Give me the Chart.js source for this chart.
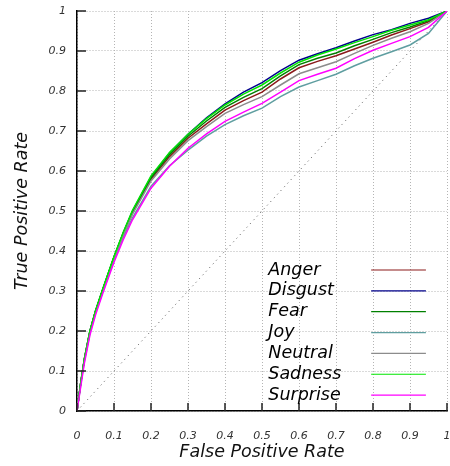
<!DOCTYPE html>
<html>
<head>
<meta charset="utf-8">
<script src="https://cdn.jsdelivr.net/npm/chart.js@4"></script>
<style>
html,body{margin:0;padding:0;background:#fff;}
#wrap{width:450px;height:466px;}
</style>
</head>
<body>
<div id="wrap"><canvas id="c" width="450" height="466"></canvas></div>
<script>
// ---- data ----
const fpr = [0, 0.01, 0.02, 0.035, 0.05, 0.07, 0.1, 0.125, 0.15, 0.2, 0.25, 0.3, 0.35, 0.4, 0.45, 0.5, 0.55, 0.6, 0.65, 0.7, 0.75, 0.8, 0.85, 0.9, 0.95, 1];
const anger    = [0, 0.07, 0.13, 0.199, 0.249, 0.304, 0.383, 0.442, 0.495, 0.579, 0.636, 0.682, 0.718, 0.752, 0.776, 0.797, 0.83, 0.858, 0.874, 0.888, 0.905, 0.922, 0.94, 0.956, 0.973, 1];
const disgust  = [0, 0.07, 0.13, 0.2, 0.25, 0.305, 0.385, 0.445, 0.5, 0.585, 0.645, 0.692, 0.733, 0.768, 0.797, 0.821, 0.851, 0.877, 0.893, 0.908, 0.925, 0.941, 0.953, 0.969, 0.982, 1];
const fear     = [0, 0.07, 0.13, 0.2, 0.25, 0.305, 0.385, 0.445, 0.498, 0.583, 0.641, 0.687, 0.725, 0.759, 0.784, 0.806, 0.838, 0.866, 0.882, 0.895, 0.913, 0.929, 0.946, 0.96, 0.976, 1];
const joy      = [0, 0.065, 0.125, 0.195, 0.245, 0.299, 0.377, 0.434, 0.483, 0.562, 0.613, 0.652, 0.687, 0.716, 0.738, 0.757, 0.786, 0.81, 0.826, 0.842, 0.863, 0.882, 0.898, 0.915, 0.944, 1];
const neutral  = [0, 0.069, 0.129, 0.198, 0.248, 0.302, 0.381, 0.44, 0.492, 0.575, 0.63, 0.676, 0.711, 0.744, 0.766, 0.786, 0.815, 0.843, 0.858, 0.873, 0.894, 0.914, 0.932, 0.948, 0.969, 1];
const sadness  = [0, 0.07, 0.13, 0.2, 0.25, 0.306, 0.386, 0.447, 0.502, 0.588, 0.646, 0.692, 0.731, 0.765, 0.792, 0.815, 0.845, 0.872, 0.89, 0.905, 0.921, 0.936, 0.952, 0.965, 0.978, 1];
const surprise = [0, 0.06, 0.12, 0.19, 0.24, 0.295, 0.372, 0.428, 0.478, 0.557, 0.612, 0.657, 0.693, 0.724, 0.747, 0.769, 0.797, 0.826, 0.842, 0.857, 0.881, 0.902, 0.919, 0.936, 0.959, 1];
const diagX = [0, 1];
const diagY = [0, 1];
const seriesNames = ['Anger', 'Disgust', 'Fear', 'Joy', 'Neutral', 'Sadness', 'Surprise'];
const seriesValues = [anger, disgust, fear, joy, neutral, sadness, surprise];
const seriesColors = ['#8b1a1a', '#00008b', '#008000', '#5f9ea0', '#8c8c8c', '#00e600', '#ff00ff'];
const xTicks = [0, 0.1, 0.2, 0.3, 0.4, 0.5, 0.6, 0.7, 0.8, 0.9, 1];
const xTickLabels = ['0', '0.1', '0.2', '0.3', '0.4', '0.5', '0.6', '0.7', '0.8', '0.9', '1'];
const yTicks = [0, 0.1, 0.2, 0.3, 0.4, 0.5, 0.6, 0.7, 0.8, 0.9, 1];
const yTickLabels = ['0', '0.1', '0.2', '0.3', '0.4', '0.5', '0.6', '0.7', '0.8', '0.9', '1'];

const FONT = '"DejaVu Sans", sans-serif';

const datasets = seriesNames.map((name, i) => ({
  label: name,
  data: fpr.map((x, k) => ({x: x, y: seriesValues[i][k]})),
  borderColor: seriesColors[i],
  borderWidth: 1.5,
  pointRadius: 0,
  tension: 0,
  fill: false,
  order: 20 - i
}));
datasets.push({
  label: '_diag',
  data: diagX.map((x, k) => ({x: x, y: diagY[k]})),
  borderColor: '#555',
  borderWidth: 1,
  borderDash: [1, 4],
  pointRadius: 0,
  fill: false,
  order: 100
});

function nearestLabel(arr, labels, v) {
  for (let i = 0; i < arr.length; i++) if (Math.abs(arr[i] - v) < 1e-6) return labels[i];
  return '';
}

const inwardTicks = {
  id: 'inwardTicks',
  afterDatasetsDraw(chart) {
    const {ctx, chartArea: a, scales: {x, y}} = chart;
    ctx.save();
    ctx.strokeStyle = '#222';
    ctx.lineWidth = 1.5;
    ctx.beginPath();
    yTicks.forEach(v => {
      const py = y.getPixelForValue(v);
      ctx.moveTo(a.left, py); ctx.lineTo(a.left + 9, py);
    });
    xTicks.forEach(v => {
      const px = x.getPixelForValue(v);
      ctx.moveTo(px, a.bottom); ctx.lineTo(px, a.bottom - 8);
    });
    ctx.stroke();
    ctx.restore();
  }
};

const insideLegend = {
  id: 'insideLegend',
  afterDatasetsDraw(chart) {
    const {ctx, chartArea: a} = chart;
    const w = a.right - a.left, h = a.bottom - a.top;
    const textX = a.left + 0.517 * w;
    const lineX0 = a.left + 0.795 * w;
    const lineX1 = a.left + 0.943 * w;
    const y0 = a.top + 0.6475 * h;
    const dy = 20.85;
    ctx.save();
    ctx.font = 'italic 17.5px ' + FONT;
    ctx.textBaseline = 'middle';
    ctx.textAlign = 'left';
    seriesNames.forEach((name, i) => {
      const yy = y0 + i * dy;
      ctx.fillStyle = '#000';
      ctx.fillText(name, textX, yy);
      ctx.strokeStyle = seriesColors[i];
      ctx.lineWidth = 1.2;
      ctx.beginPath();
      ctx.moveTo(lineX0, yy); ctx.lineTo(lineX1, yy);
      ctx.stroke();
    });
    ctx.restore();
  }
};

new Chart(document.getElementById('c'), {
  type: 'line',
  data: {datasets: datasets},
  plugins: [inwardTicks, insideLegend],
  options: {
    responsive: false,
    animation: false,
    layout: {padding: {left: 0, right: 3, top: 11, bottom: 0}},
    plugins: {legend: {display: false}, tooltip: {enabled: false}},
    scales: {
      x: {
        type: 'linear', min: 0, max: 1,
        afterBuildTicks(s) { s.ticks = xTicks.map(v => ({value: v})); },
        afterFit(s) { s.height = 55; s.paddingLeft = 0; s.paddingRight = 0; },
        grid: {color: '#b4b4b4', lineWidth: 1, drawTicks: false},
        border: {display: true, color: '#000', width: 1.5, dash: [1, 2]},
        ticks: {
          padding: 19, maxRotation: 0, autoSkip: false,
          color: '#333',
          font: {family: FONT, size: 11, style: 'italic'},
          callback: v => nearestLabel(xTicks, xTickLabels, v)
        },
        title: {display: true, text: 'False Positive Rate', color: '#111',
          font: {family: FONT, size: 17.5, style: 'italic'}, padding: {top: 0, bottom: 3}}
      },
      y: {
        type: 'linear', min: 0, max: 1,
        afterBuildTicks(s) { s.ticks = yTicks.map(v => ({value: v})); },
        afterFit(s) { s.width = 77; s.paddingTop = 0; s.paddingBottom = 0; },
        grid: {color: '#b4b4b4', lineWidth: 1, drawTicks: false},
        border: {display: true, color: '#000', width: 1.5, dash: [1, 2]},
        ticks: {
          padding: 11, autoSkip: false,
          color: '#333',
          font: {family: FONT, size: 11, style: 'italic'},
          callback: v => nearestLabel(yTicks, yTickLabels, v)
        },
        title: {display: true, text: 'True Positive Rate', color: '#111',
          font: {family: FONT, size: 17.5, style: 'italic'}, padding: {top: 12, bottom: 0}}
      }
    }
  }
});
</script>
</body>
</html>
